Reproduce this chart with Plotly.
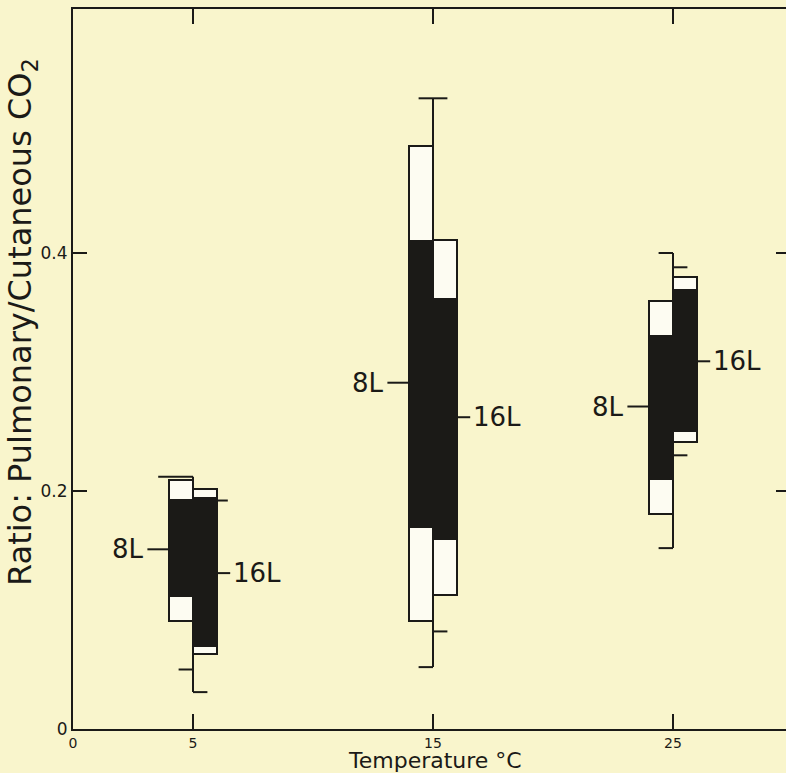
import plotly.graph_objects as go

# ---------------- data ----------------
temps = [5, 15, 25]
tick_x = [0, 5, 15, 25]
tick_x_text = ["0", "5", "15", "25"]
tick_y = [0, 0.2, 0.4]
tick_y_text = ["0", "0.2", "0.4"]

series_names = ["8L", "16L"]
# 8L
l8_mean = [0.151, 0.291, 0.271]
l8_min = [0.050, 0.052, 0.152]
l8_max = [0.212, 0.530, 0.400]
l8_sd_lo = [0.091, 0.091, 0.181]
l8_sd_hi = [0.209, 0.490, 0.360]
l8_se_lo = [0.111, 0.169, 0.209]
l8_se_hi = [0.193, 0.411, 0.331]
# 16L
l16_mean = [0.131, 0.262, 0.309]
l16_min = [0.031, 0.082, 0.230]
l16_max = [0.192, 0.530, 0.388]
l16_sd_lo = [0.063, 0.113, 0.241]
l16_sd_hi = [0.202, 0.411, 0.380]
l16_se_lo = [0.069, 0.159, 0.250]
l16_se_hi = [0.195, 0.362, 0.370]

# ---------------- styles ----------------
BG = "#f9f5cc"
INK = "#1b1a17"
BOXWHITE = "#fdfcf2"
FONT = "DejaVu Sans"
cap_len = {"8L": [1.45, 0.6, 0.6], "16L": [0.6, 0.6, 0.6]}
mean_len = {"8L": 0.9, "16L": 0.55}

series = [
    dict(name="8L", side=-1, mean=l8_mean, mn=l8_min, mx=l8_max,
         sdl=l8_sd_lo, sdh=l8_sd_hi, sel=l8_se_lo, seh=l8_se_hi),
    dict(name="16L", side=1, mean=l16_mean, mn=l16_min, mx=l16_max,
         sdl=l16_sd_lo, sdh=l16_sd_hi, sel=l16_se_lo, seh=l16_se_hi),
]

fig = go.Figure()

# white (SD) boxes
for s in series:
    fig.add_trace(go.Bar(
        x=[t + s["side"] * 0.5 for t in temps],
        base=s["sdl"],
        y=[h - l for h, l in zip(s["sdh"], s["sdl"])],
        width=1, marker=dict(color=BOXWHITE, line=dict(color=INK, width=2)),
        showlegend=False, hoverinfo="skip"))
# black (SE) boxes
for s in series:
    fig.add_trace(go.Bar(
        x=[t + s["side"] * 0.5 for t in temps],
        base=s["sel"],
        y=[h - l for h, l in zip(s["seh"], s["sel"])],
        width=1, marker=dict(color=INK, line=dict(width=0)),
        showlegend=False, hoverinfo="skip"))

# range lines and caps
lx, ly = [], []
for i, t in enumerate(temps):
    lo = min(l8_min[i], l16_min[i])
    hi = max(l8_max[i], l16_max[i])
    lx += [t, t, None]
    ly += [lo, hi, None]
    for s in series:
        sd = s["side"]
        for j, v in enumerate([s["mn"][i], s["mx"][i]]):
            inside = s["sdl"][i] < v < s["sdh"][i]
            if inside:
                x0 = t + sd * 1.0
                ln = 0.45
            else:
                x0 = t
                ln = cap_len[s["name"]][i] if j == 1 else 0.6
            lx += [x0, x0 + sd * ln, None]
            ly += [v, v, None]
    # mean ticks
    for s in series:
        sd = s["side"]
        x0 = t + sd * 1.0
        lx += [x0, x0 + sd * mean_len[s["name"]], None]
        ly += [s["mean"][i], s["mean"][i], None]

fig.add_trace(go.Scatter(x=lx, y=ly, mode="lines",
                         line=dict(color=INK, width=2),
                         showlegend=False, hoverinfo="skip"))
# anchor trace for right-hand tick axis
fig.add_trace(go.Scatter(x=[1], y=[0.1], yaxis="y2", mode="markers",
                         marker=dict(opacity=0), showlegend=False,
                         hoverinfo="skip"))

# mean labels
for i, t in enumerate(temps):
    for s in series:
        sd = s["side"]
        fig.add_annotation(
            x=t + sd * (1.0 + mean_len[s["name"]] + 0.05), y=s["mean"][i],
            xref="x", yref="y", text=s["name"], showarrow=False,
            xanchor="right" if sd < 0 else "left", yanchor="middle",
            font=dict(family=FONT, size=26, color=INK))

# axis titles
fig.add_annotation(x=0, y=(729 - 322) / 720, xref="paper", yref="paper",
                   xshift=-51, text="Ratio: Pulmonary/Cutaneous CO<sub>2</sub>",
                   textangle=-90, showarrow=False, xanchor="center",
                   yanchor="middle", font=dict(family=FONT, size=32, color=INK))
fig.add_annotation(x=(435 - 73) / 713, y=0, xref="paper", yref="paper",
                   yshift=-31, text="Temperature °C", showarrow=False,
                   xanchor="center", yanchor="middle",
                   font=dict(family=FONT, size=22, color=INK))

YMAX = 720 / 1190
XMAX = 713 / 24

fig.update_layout(
    width=786, height=773,
    margin=dict(l=73, r=0, t=9, b=44),
    paper_bgcolor=BG, plot_bgcolor=BG,
    barmode="overlay", bargap=0,
    xaxis=dict(range=[0, XMAX], showgrid=False, zeroline=False,
               showline=True, linecolor=INK, linewidth=2, mirror="ticks",
               ticks="inside", ticklen=15, tickwidth=2, tickcolor=INK,
               tickvals=tick_x, ticktext=tick_x_text, ticklabelstandoff=0,
               tickfont=dict(family=FONT, size=14, color=INK)),
    yaxis=dict(range=[0, YMAX], showgrid=False, zeroline=False,
               showline=True, linecolor=INK, linewidth=2,
               ticks="inside", ticklen=14, tickwidth=2, tickcolor=INK,
               tickvals=tick_y, ticktext=tick_y_text,
               tickfont=dict(family=FONT, size=17, color=INK)),
    yaxis2=dict(range=[0, YMAX], overlaying="y", side="right",
                showgrid=False, zeroline=False, showline=False,
                ticks="inside", ticklen=10, tickwidth=2, tickcolor=INK,
                tickvals=[0.2, 0.4], showticklabels=False),
)

fig.write_html(
    "out.html",
    config={"displayModeBar": False},
    post_script="document.body.style.margin='0';"
                "document.body.style.background='%s';" % BG)
